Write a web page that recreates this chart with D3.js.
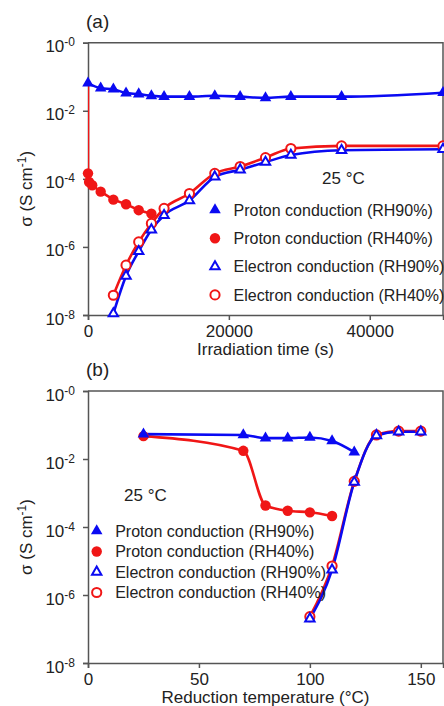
<!DOCTYPE html>
<html>
<head>
<meta charset="utf-8">
<script src="https://cdn.jsdelivr.net/npm/d3@7"></script>
<style>
  body { margin: 0; background: #fff; }
  svg { display: block; font-family: Arial, "Liberation Sans", sans-serif; }
</style>
</head>
<body>
<svg id="chart" width="444" height="706"></svg>
<script>
// ---- panel (a): conductivity vs irradiation time (s), sigma in S/cm
const timeProton90 = [0, 1800, 3600, 5400, 7200, 9000, 10800, 14400, 18000, 21600, 25200, 28800, 36000, 50400];
const sigProton90a = [6.5e-2, 4.6e-2, 4.3e-2, 3.3e-2, 3.1e-2, 2.75e-2, 2.6e-2, 2.6e-2, 2.75e-2, 2.6e-2, 2.4e-2, 2.6e-2, 2.6e-2, 3.4e-2];

const timeProton40 = [0, 0, 150, 600, 1800, 3600, 5400, 7200, 9000];
const sigProton40a = [6.0e-2, 1.45e-4, 8.1e-5, 6.5e-5, 4.2e-5, 2.45e-5, 1.8e-5, 1.2e-5, 9.5e-6];

const timeElectron = [3600, 5400, 7200, 9000, 10800, 14400, 18000, 21600, 25200, 28800, 36000, 50400];
const sigElectron90a = [1.1e-8, 1.4e-7, 7.4e-7, 3.2e-6, 8.5e-6, 2.3e-5, 1.15e-4, 1.86e-4, 3.1e-4, 5.0e-4, 6.9e-4, 7.4e-4];
const sigElectron40a = [3.8e-8, 2.9e-7, 1.4e-6, 4.9e-6, 1.35e-5, 3.7e-5, 1.45e-4, 2.3e-4, 4.2e-4, 7.8e-4, 9.3e-4, 9.3e-4];

// ---- panel (b): conductivity vs reduction temperature (°C)
const tempProton90 = [25, 70, 80, 90, 100, 110, 120];
const sigProton90b = [5.4e-2, 5.1e-2, 4.1e-2, 4.1e-2, 4.3e-2, 3.4e-2, 1.6e-2];

const tempProton40 = [25, 70, 80, 90, 100, 110];
const sigProton40b = [4.7e-2, 1.74e-2, 4.3e-4, 3.0e-4, 2.7e-4, 2.1e-4];

const tempElectron = [100, 110, 120, 130, 140, 150];
const sigElectron90b = [2.0e-7, 5.5e-6, 2.1e-3, 4.9e-2, 6.3e-2, 6.3e-2];
const sigElectron40b = [2.3e-7, 7.1e-6, 2.2e-3, 5.1e-2, 6.6e-2, 6.6e-2];

const yTicks = [1e-8, 1e-6, 1e-4, 1e-2, 1];
const timeTicks = [0, 20000, 40000];
const tempTicks = [0, 50, 100, 150];
const legendLabels = ['Proton conduction (RH90%)', 'Proton conduction (RH40%)',
                      'Electron conduction (RH90%)', 'Electron conduction (RH40%)'];

const blue = '#0a0af2', red = '#f01616', axisCol = '#555', txt = '#222';
const left = 88, right = 443;
const svg = d3.select('#chart');

const zip = (xs, ys) => xs.map((v, i) => [v, ys[i]]);

// marker styles: filled triangle, filled circle, open triangle, open circle
const markers = [
  {shape: 'tri', fill: blue, stroke: 'none', color: blue},
  {shape: 'circ', fill: red, stroke: 'none', color: red},
  {shape: 'tri', fill: '#fff', stroke: blue, color: blue},
  {shape: 'circ', fill: '#fff', stroke: red, color: red}
];

function drawMarker(sel, m, x, y){
  if (m.shape === 'tri') {
    sel.append('path')
      .attr('transform', `translate(${x},${y})`)
      .attr('d', d3.symbol().type(d3.symbolTriangle).size(m.stroke === 'none' ? 58 : 38)())
      .attr('fill', m.fill).attr('stroke', m.stroke).attr('stroke-width', 2);
  } else {
    sel.append('circle')
      .attr('cx', x).attr('cy', y)
      .attr('r', m.stroke === 'none' ? 5.2 : 4.6)
      .attr('fill', m.fill).attr('stroke', m.stroke).attr('stroke-width', 2);
  }
}

function drawPanel(cfg){
  const g = svg.append('g');
  const x = d3.scaleLinear().domain(cfg.xDomain).range([left, right]);
  const y = d3.scaleLog().domain([1e-8, 1]).range([cfg.bottom, cfg.top]);

  const clipId = 'clip-' + cfg.id;
  svg.append('clipPath').attr('id', clipId)
    .append('rect').attr('x', left).attr('y', cfg.top)
    .attr('width', right - left).attr('height', cfg.bottom - cfg.top);

  // frame top / right
  g.append('path')
    .attr('d', `M${left},${cfg.top}H${right}V${cfg.bottom}`)
    .attr('fill', 'none').attr('stroke', axisCol).attr('stroke-width', 1.5);

  const ax = g.append('g')
    .attr('transform', `translate(0,${cfg.bottom})`)
    .call(d3.axisBottom(x).tickValues(cfg.xTicks).tickFormat(d3.format('d'))
      .tickSizeOuter(0).tickSize(5).tickPadding(5));
  const ay = g.append('g')
    .attr('transform', `translate(${left},0)`)
    .call(d3.axisLeft(y).tickValues(yTicks).tickFormat(() => '')
      .tickSizeOuter(0).tickSize(5));

  [ax, ay].forEach(a => {
    a.select('.domain').attr('stroke', axisCol).attr('stroke-width', 1.5);
    a.selectAll('.tick line').attr('stroke', axisCol).attr('stroke-width', 1.5);
    a.selectAll('text').attr('fill', txt).attr('font-size', 17)
      .attr('font-family', 'Arial, "Liberation Sans", sans-serif');
  });

  ay.selectAll('.tick text').each(function(d){
    const t = d3.select(this).attr('x', -13).attr('dy', '0.53em').text(null);
    t.append('tspan').text('10');
    t.append('tspan').attr('dy', -6).attr('font-size', 12)
      .text('-' + Math.abs(Math.round(Math.log10(d))));
  });

  // series: lines first (red under blue), then markers
  const plot = g.append('g');
  const lines = plot.append('g').attr('clip-path', `url(#${clipId})`);
  cfg.series.forEach(s => {
    lines.append('path')
      .datum(s.data)
      .attr('fill', 'none')
      .attr('stroke', markers[s.marker].color)
      .attr('stroke-width', 2.6)
      .attr('d', d3.line().x(d => x(d[0])).y(d => y(d[1])).curve(s.curve || d3.curveMonotoneX));
  });
  cfg.series.forEach(s => {
    const mg = plot.append('g');
    s.data.forEach((d, i) => {
      if (i < (s.skip || 0)) return;
      drawMarker(mg, markers[s.marker], x(d[0]), y(d[1]));
    });
  });

  // panel label, temperature note, axis titles
  g.append('text').attr('x', 86).attr('y', cfg.top - 15)
    .attr('font-size', 19).attr('fill', txt).text(cfg.label);
  g.append('text').attr('x', cfg.noteX).attr('y', cfg.noteY)
    .attr('font-size', 17).attr('fill', txt).text('25 °C');
  g.append('text').attr('x', (left + right) / 2).attr('y', cfg.bottom + 40)
    .attr('text-anchor', 'middle').attr('font-size', 17).attr('fill', txt).text(cfg.xTitle);

  const yt = g.append('text')
    .attr('transform', `translate(32,${(cfg.top + cfg.bottom) / 2 + 10}) rotate(-90)`)
    .attr('text-anchor', 'middle').attr('font-size', 17).attr('fill', txt);
  yt.append('tspan').text('σ (S cm');
  yt.append('tspan').attr('dy', -6).attr('font-size', 12).text('-1');
  yt.append('tspan').attr('dy', 6).text(')');

  // legend
  const lg = g.append('g');
  legendLabels.forEach((lab, i) => {
    const ry = cfg.legend.y + i * cfg.legend.step;
    drawMarker(lg, markers[i], cfg.legend.x, ry);
    lg.append('text').attr('x', cfg.legend.x + 18.5).attr('y', ry).attr('dy', '0.35em')
      .attr('font-size', 16).attr('fill', txt).text(lab);
  });
}

drawPanel({
  id: 'a', label: '(a)', top: 42.7, bottom: 315,
  xDomain: [0, 50400], xTicks: timeTicks, xTitle: 'Irradiation time (s)',
  noteX: 322, noteY: 184,
  legend: {x: 215, y: 210, step: 28.3},
  series: [
    {marker: 1, data: zip(timeProton40, sigProton40a), curve: d3.curveLinear, skip: 1},
    {marker: 3, data: zip(timeElectron, sigElectron40a)},
    {marker: 0, data: zip(timeProton90, sigProton90a)},
    {marker: 2, data: zip(timeElectron, sigElectron90a)}
  ]
});

drawPanel({
  id: 'b', label: '(b)', top: 391, bottom: 663,
  xDomain: [0, 160], xTicks: tempTicks, xTitle: 'Reduction temperature (°C)',
  noteX: 124, noteY: 500.5,
  legend: {x: 96.7, y: 531, step: 20.5},
  series: [
    {marker: 1, data: zip(tempProton40, sigProton40b)},
    {marker: 3, data: zip(tempElectron, sigElectron40b)},
    {marker: 0, data: zip(tempProton90, sigProton90b)},
    {marker: 2, data: zip(tempElectron, sigElectron90b)}
  ]
});
</script>
</body>
</html>
